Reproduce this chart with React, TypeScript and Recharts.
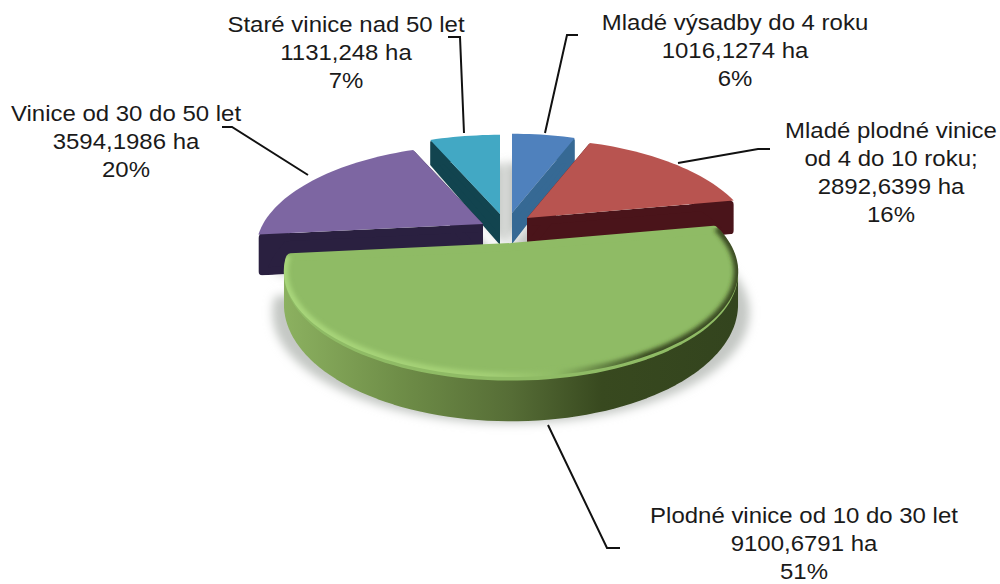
import { PieChart, Pie } from 'recharts';

const categories = [
  'Mladé výsadby do 4 roku',
  'Mladé plodné vinice od 4 do 10 roku;',
  'Plodné vinice od 10 do 30 let',
  'Vinice od 30 do 50 let',
  'Staré vinice nad 50 let',
];
const valuesHa = [1016.1274, 2892.6399, 9100.6791, 3594.1986, 1131.248];
const percentLabels = ['6%', '16%', '51%', '20%', '7%'];

const topColors = ['#4F81BD', '#B85450', '#8FBB65', '#7D66A2', '#42A8C4'];
const wallColors = ['#366994', '#4A141A', 'url(#greenWall)', '#2A2040', '#12444F'];

// screen offset of every slice from the pie centre (exploded pie), depth differs a bit with perspective
const explode = [
  { dx: 7, dy: -12, depth: 31 },
  { dx: 22, dy: -7, depth: 35 },
  { dx: 6, dy: 20, depth: 35 },
  { dx: -22, dy: -1, depth: 40 },
  { dx: -5, dy: -11, depth: 31 },
];

// label placement: centre x, first baseline, wrapped lines, leader line
const labelLayout = [
  { x: 735, y: 30, lines: ['Mladé výsadby do 4 roku'], leader: '578,35 567,35 545,133' },
  { x: 891, y: 138, lines: ['Mladé plodné vinice', 'od 4 do 10 roku;'], leader: '770,149 758,149 678,163' },
  { x: 804, y: 523, lines: ['Plodné vinice od 10 do 30 let'], leader: '548,425 607,548 620,548' },
  { x: 126, y: 121, lines: ['Vinice od 30 do 50 let'], leader: '222,127 232,127 308,175' },
  { x: 346, y: 32, lines: ['Staré vinice nad 50 let'], leader: '448,37 460,37 464,133' },
];

// draw order, back slices first, the big green one over everything
const layers = [[0, 4], [1, 3], [2]];

const tableData = categories.map((name, i) => ({ name, value: valuesHa[i] }));

const TILT = 0.45;
const PERSPECTIVE = 0.25;
const CORNER = 4; // rounded wall corners, drawn as a round-joined stroke
const FONT = '"Liberation Sans", Arial, sans-serif';

type Pt = { x: number; y: number; s: number };

function slicePoints(props: any, dx: number, dy: number, grow = 1) {
  const { cx, cy, outerRadius, startAngle, endAngle } = props;
  const project = (deg: number, r: number): Pt => {
    const a = (deg * Math.PI) / 180;
    const u = r * Math.sin(a);
    const v = r * Math.cos(a);
    const s = 1 / (1 + PERSPECTIVE * v);
    return { x: cx + dx + outerRadius * grow * u * s, y: cy + dy - outerRadius * grow * TILT * v * s, s };
  };
  const from = 90 - startAngle;
  const to = 90 - endAngle;
  const steps = Math.max(4, Math.ceil((to - from) / 2));
  const rim: Pt[] = [];
  for (let i = 0; i <= steps; i++) rim.push(project(from + ((to - from) * i) / steps, 1));
  return { apex: project(0, 0), rim };
}

const toPath = (pts: Pt[], close = true) =>
  pts.map((p, i) => `${i ? 'L' : 'M'}${p.x.toFixed(1)} ${p.y.toFixed(1)}`).join('') + (close ? 'Z' : '');

// side walls, every quad wound the same way so they merge with nonzero fill
function wallPath(outline: Pt[], depth: number, corner: number) {
  const shift = (p: Pt, by: number) => ({ ...p, y: p.y + by });
  let d = '';
  outline.forEach((p, i) => {
    const q = outline[(i + 1) % outline.length];
    let quad = [
      shift(p, corner),
      shift(q, corner),
      shift(q, depth * q.s - corner),
      shift(p, depth * p.s - corner),
    ];
    const area = quad.reduce((sum, a, j) => {
      const b = quad[(j + 1) % 4];
      return sum + a.x * b.y - b.x * a.y;
    }, 0);
    if (area < 0) quad = quad.reverse();
    d += toPath(quad);
  });
  return d;
}

function SliceShape(props: any) {
  const i = categories.indexOf(props.name);
  const { dx, dy, depth } = explode[i];
  const isGreen = i === 2;
  const inset = 1 - CORNER / props.outerRadius;
  const sharp = slicePoints(props, dx, dy);
  const wall = slicePoints(props, dx, dy, inset);
  // green's top has rounded corners too
  const soft = slicePoints(props, dx, dy + 2, inset);
  const sharpOutline = [sharp.apex, ...sharp.rim];
  const top = isGreen ? toPath([soft.apex, ...soft.rim]) : toPath(sharpOutline);
  return (
    <g>
      <clipPath id={`wallClip${i}`}>
        <path d={wallPath(sharpOutline, depth, 0)} />
      </clipPath>
      <g clipPath={`url(#wallClip${i})`}>
        <path
          d={wallPath([wall.apex, ...wall.rim], depth, CORNER)}
          fill={wallColors[i]}
          stroke={wallColors[i]}
          strokeWidth={CORNER * 2}
          strokeLinejoin="round"
        />
      </g>
      <path
        d={top}
        fill={topColors[i]}
        stroke={isGreen ? topColors[i] : 'none'}
        strokeWidth={CORNER * 2}
        strokeLinejoin="round"
      />
      {isGreen && (
        <g clipPath="url(#greenTop)">
          <clipPath id="greenTop">
            <path d={toPath(sharpOutline)} />
          </clipPath>
          <path d={toPath(sharp.rim, false)} fill="none" stroke="url(#greenBevel)" strokeWidth={9} filter="url(#soft)" />
        </g>
      )}
    </g>
  );
}

function ShadowShape(props: any) {
  const i = categories.indexOf(props.name);
  const { dx, dy, depth } = explode[i];
  const isGreen = i === 2;
  const { apex, rim } = slicePoints(props, isGreen ? dx : 0, dy + depth + (isGreen ? 5 : 0), isGreen ? 1.05 : 1.02);
  return <path d={toPath([apex, ...rim])} fill="#C4C8C4" filter="url(#shadow)" />;
}

function renderLabel(props: any) {
  const i = categories.indexOf(props.name);
  const layout = labelLayout[i];
  const lines = [
    ...layout.lines,
    `${String(valuesHa[i]).replace('.', ',')} ha`,
    percentLabels[i],
  ];
  return (
    <g key={props.name}>
      <polyline points={layout.leader} fill="none" stroke="#111" strokeWidth={2} />
      <text
        transform={`translate(${layout.x} 0) scale(1.09 1)`}
        textAnchor="middle"
        fontFamily={FONT}
        fontSize={22}
        fill="#1A1A1A"
      >
        {lines.map((line, n) => (
          <tspan key={n} x={0} y={layout.y + n * 28}>
            {line}
          </tspan>
        ))}
      </text>
    </g>
  );
}

const pieProps = {
  data: tableData,
  dataKey: 'value',
  nameKey: 'name',
  cx: 505,
  cy: 225,
  outerRadius: 220,
  startAngle: 90,
  endAngle: -270,
  stroke: 'none',
  isAnimationActive: false,
};

export default function App() {
  return (
    <div style={{ position: 'absolute', left: 0, top: 0, width: 1000, height: 584, background: '#fff', overflow: 'hidden' }}>
      <PieChart width={1000} height={584} margin={{ top: 0, right: 0, bottom: 0, left: 0 }}>
        <defs>
          <linearGradient id="greenWall" gradientUnits="userSpaceOnUse" x1={284} x2={738} y1={0} y2={0}>
            <stop offset="0" stopColor="#8CB160" />
            <stop offset="0.25" stopColor="#6F8E48" />
            <stop offset="0.5" stopColor="#566D36" />
            <stop offset="0.7" stopColor="#38491F" />
            <stop offset="1" stopColor="#33441E" />
          </linearGradient>
          <linearGradient id="greenBevel" gradientUnits="userSpaceOnUse" x1={284} x2={738} y1={0} y2={0}>
            <stop offset="0" stopColor="#A8D67A" />
            <stop offset="0.45" stopColor="#A3CF75" />
            <stop offset="0.6" stopColor="#8FBB65" />
            <stop offset="0.8" stopColor="#3A4C22" />
            <stop offset="1" stopColor="#3A4C22" />
          </linearGradient>
          <filter id="soft" x="-10%" y="-10%" width="120%" height="120%">
            <feGaussianBlur stdDeviation={2} />
          </filter>
          <filter id="shadow" x="-20%" y="-20%" width="140%" height="140%">
            <feGaussianBlur stdDeviation={5} />
          </filter>
        </defs>
        <Pie {...pieProps} shape={(p: any) => <ShadowShape {...p} />} />
        {layers.map((layer, n) => (
          <Pie
            key={n}
            {...pieProps}
            shape={(p: any) => (layer.includes(categories.indexOf(p.name)) ? <SliceShape {...p} /> : <g />)}
          />
        ))}
        <Pie {...pieProps} shape={() => <g />} label={renderLabel} labelLine={false} />
      </PieChart>
    </div>
  );
}
